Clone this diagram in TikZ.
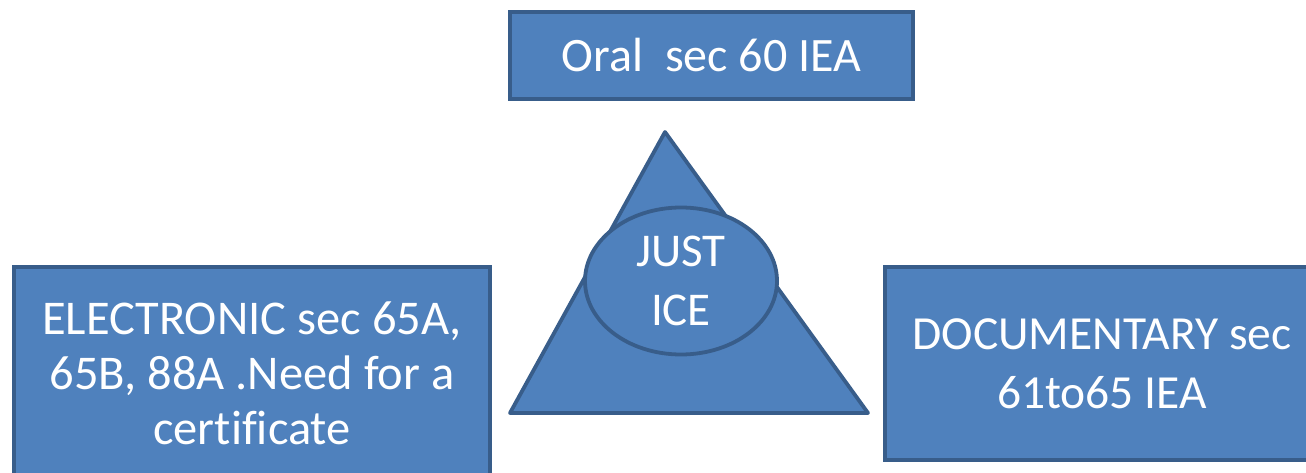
\documentclass[tikz,border=0pt]{standalone}
\usepackage{fontspec}
\setmainfont{Carlito}[Ligatures=NoCommon]
\usetikzlibrary{shapes.geometric}
\definecolor{boxfill}{HTML}{4F81BD}
\definecolor{boxline}{HTML}{385D8A}

\begin{document}
\begin{tikzpicture}[x=1pt,y=-1pt,
  evbox/.style={draw=boxline,fill=boxfill,line width=3.8pt,text=white,
    align=center,inner sep=0pt,font=\fontsize{48}{57}\selectfont},
  evline/.style={draw=boxline,fill=boxfill,line width=3.8pt,line join=round}]

\useasboundingbox (0,0) rectangle (1306,473);
\clip (0,0) rectangle (1306,473);

\node[evbox,minimum width=403pt,minimum height=87pt] (oral) at (711.5,55.5) {Oral\ \ sec 60 IEA};

% triangle with the ellipse on top
\coordinate (apex) at (665,132);
\coordinate (baseleft) at (510,413);
\coordinate (baseright) at (868,413);
\draw[evline] (apex) -- (baseleft) -- (baseright) -- cycle;

\node[evbox,ellipse,minimum width=192pt,minimum height=147pt,font=\fontsize{47}{59}\selectfont] (just) at (681,281) {JUST\\ICE};

\node[evbox,minimum width=476pt,minimum height=213pt,font=\fontsize{48.5}{55}\selectfont] (electronic) at (252,373.5)
  {ELECTRONIC sec 65A,\\65B, 88A .Need for a\\certificate};

\node[evbox,minimum width=434pt,minimum height=193pt,font=\fontsize{47.5}{59}\selectfont] (documentary) at (1102,363.5)
  {DOCUMENTARY sec\\61to65 IEA};

\end{tikzpicture}
\end{document}
